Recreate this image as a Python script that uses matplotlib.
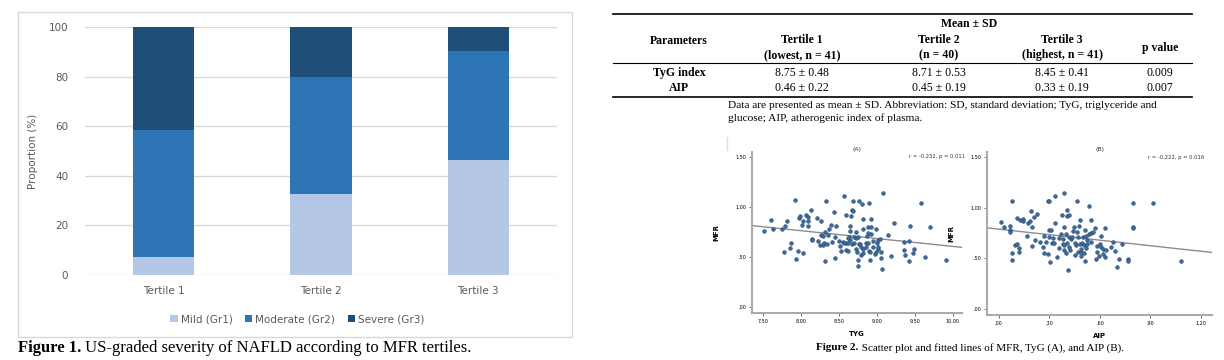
import numpy as np
import matplotlib.pyplot as plt
from matplotlib.lines import Line2D
from matplotlib.patches import Rectangle

## ========= data ========================

tertiles = ['Tertile 1', 'Tertile 2', 'Tertile 3']
grades = ['Mild (Gr1)', 'Moderate (Gr2)', 'Severe (Gr3)']
mild = [7.3, 32.5, 46.3]
moderate = [51.2, 47.5, 43.9]
severe = [41.5, 20.0, 9.8]

tbl_cols = ['Tertile 1', 'Tertile 2', 'Tertile 3']
tbl_sub = ['(lowest, n = 41)', '(n = 40)', '(highest, n = 41)']
tbl_rows = ['TyG index', 'AIP']
tbl_vals = [['8.75 ± 0.48', '8.71 ± 0.53', '8.45 ± 0.41'],
            ['0.46 ± 0.22', '0.45 ± 0.19', '0.33 ± 0.19']]
tbl_p = ['0.009', '0.007']

tyg = [7.51, 7.61, 7.63, 7.75, 7.79, 7.82, 7.78, 7.85, 7.87, 7.92, 7.94, 7.96, 7.97, 7.99,
       8.01, 8.03, 8.03, 8.07, 8.09, 8.09, 8.09, 8.13, 8.14, 8.15, 8.21, 8.22, 8.25, 8.27,
       8.27, 8.29, 8.29, 8.30, 8.32, 8.32, 8.33, 8.34, 8.37, 8.40, 8.41, 8.43, 8.45, 8.46,
       8.50, 8.52, 8.53, 8.57, 8.59, 8.59, 8.59, 8.62, 8.62, 8.63, 8.64, 8.65, 8.65, 8.66,
       8.67, 8.67, 8.69, 8.69, 8.70, 8.72, 8.73, 8.73, 8.75, 8.75, 8.75, 8.76, 8.77, 8.79,
       8.79, 8.80, 8.81, 8.81, 8.82, 8.85, 8.86, 8.87, 8.88, 8.88, 8.90, 8.90, 8.91, 8.91,
       8.92, 8.92, 8.92, 8.95, 8.97, 8.99, 9.00, 9.01, 9.01, 9.05, 9.06, 9.07, 9.08, 9.15,
       9.19, 9.23, 9.35, 9.36, 9.37, 9.42, 9.42, 9.44, 9.47, 9.49, 9.58, 9.63, 9.70, 9.91,
       8.78, 8.62, 8.95, 8.45, 9.02, 8.70, 8.55, 8.88, 9.04, 8.35, 8.74, 8.82, 8.57, 8.99]
mfr_a = [0.763, 0.874, 0.78, 0.78, 0.81, 0.864, 0.55, 0.59, 0.64, 1.075, 0.48, 0.56, 0.89, 0.91,
         0.82, 0.54, 0.864, 0.92, 0.90, 0.857, 0.81, 0.974, 0.683, 0.666, 0.887, 0.663, 0.62, 0.72,
         0.857, 0.713, 0.62, 0.643, 0.46, 0.75, 1.065, 0.633, 0.78, 0.82, 0.65, 0.947, 0.49, 0.81,
         0.656, 0.61, 0.556, 1.115, 0.57, 0.92, 0.636, 0.636, 0.56, 0.70, 0.81, 0.763, 0.67, 0.91,
         0.633, 0.97, 0.96, 1.065, 0.70, 0.747, 0.693, 0.576, 0.475, 0.41, 0.70, 1.065, 0.63, 0.596,
         0.516, 1.03, 0.78, 0.536, 0.884, 0.596, 0.643, 0.71, 0.80, 0.643, 0.56, 1.045, 0.475, 0.55,
         0.80, 0.884, 0.73, 0.60, 0.53, 0.777, 0.636, 0.67, 0.58, 0.546, 0.495, 0.38, 1.145, 0.723,
         0.51, 0.844, 0.646, 0.57, 0.52, 0.46, 0.663, 0.81, 0.54, 0.58, 1.045, 0.50, 0.80, 0.47,
         0.63, 0.69, 0.66, 0.70, 0.60, 0.64, 0.65, 0.74, 0.68, 0.72, 0.55, 0.58, 0.64, 0.55]

aip = [0.016, 0.028, 0.067, 0.067, 0.069, 0.077, 0.077, 0.077, 0.095, 0.107, 0.107, 0.119, 0.119,
       0.127, 0.146, 0.146, 0.166, 0.176, 0.186, 0.194, 0.196, 0.196, 0.206, 0.215, 0.225, 0.245,
       0.265, 0.269, 0.281, 0.289, 0.296, 0.296, 0.296, 0.304, 0.289, 0.316, 0.324, 0.336, 0.336,
       0.348, 0.356, 0.368, 0.376, 0.380, 0.384, 0.387, 0.389, 0.389, 0.399, 0.403, 0.407, 0.407,
       0.411, 0.415, 0.415, 0.419, 0.427, 0.435, 0.447, 0.455, 0.459, 0.466, 0.466, 0.470, 0.476,
       0.480, 0.484, 0.490, 0.490, 0.494, 0.498, 0.504, 0.504, 0.510, 0.514, 0.522, 0.526, 0.534,
       0.534, 0.546, 0.550, 0.561, 0.569, 0.577, 0.585, 0.597, 0.607, 0.609, 0.617, 0.621, 0.629,
       0.629, 0.637, 0.666, 0.676, 0.688, 0.700, 0.716, 0.731, 0.769, 0.769, 0.799, 0.799, 0.799,
       0.917, 1.079,
       0.45, 0.52, 0.38, 0.47, 0.55, 0.42, 0.33, 0.60, 0.49, 0.36, 0.27, 0.44, 0.58, 0.40, 0.52, 0.31]
mfr_b = [0.863, 0.81, 0.82, 0.78, 0.76, 1.07, 0.553, 0.483, 0.63, 0.90, 0.64, 0.597, 0.563,
         0.883, 0.893, 0.867, 0.723, 0.85, 0.867, 0.97, 0.813, 0.62, 0.907, 0.683, 0.94, 0.66,
         0.613, 0.553, 0.663, 1.067, 1.067, 0.78, 0.707, 0.463, 0.54, 0.647, 0.703, 0.853, 1.113,
         0.513, 0.703, 0.74, 0.923, 0.643, 0.63, 1.143, 0.81, 0.58, 0.74, 0.973, 0.917, 0.647,
         0.383, 0.923, 0.607, 0.707, 0.693, 0.707, 0.81, 0.53, 0.633, 0.76, 1.063, 0.563, 0.817,
         0.637, 0.877, 0.567, 0.52, 0.647, 0.707, 0.63, 0.557, 0.47, 0.78, 0.677, 0.64, 1.02,
         0.74, 0.88, 0.747, 0.76, 0.80, 0.49, 0.56, 0.527, 0.723, 0.61, 0.59, 0.54, 0.80,
         0.517, 0.58, 0.607, 0.663, 0.573, 0.413, 0.497, 0.64, 0.497, 0.473, 1.043, 0.813, 0.80,
         1.043, 0.473,
         0.65, 0.60, 0.69, 0.71, 0.66, 0.58, 0.65, 0.64, 0.59, 0.60, 0.72, 0.77, 0.62, 0.55, 0.72, 0.78]

fit_a = [-0.0786, 1.392]   # slope, intercept
fit_b = [-0.182, 0.788]
stat_a = 'r = -0.232, p = 0.011'
stat_b = 'r = -0.222, p = 0.016'

## ========= helpers ========================

W, H = 1224, 360

def box(l, t, r, b):
    return [l / W, 1 - b / H, (r - l) / W, (b - t) / H]

def fx(x):
    return x / W

def fy(y):
    return 1 - y / H

fig = plt.figure(figsize=(W / 100, H / 100), dpi=100)
renderer = fig.canvas.get_renderer()
serif = 'Liberation Serif'
gray = '#595959'

def caption(x, y, head, rest, size, center=False):
    # bold "Figure n." followed by plain text
    t1 = fig.text(fx(x), fy(y), head, fontsize=size, family=serif, weight='bold', va='center')
    t2 = fig.text(fx(x), fy(y), ' ' + rest, fontsize=size, family=serif, va='center')
    w1 = t1.get_window_extent(renderer).width
    w2 = t2.get_window_extent(renderer).width
    x0 = x - (w1 + w2) / 2 if center else x
    t1.set_x(fx(x0))
    t2.set_x(fx(x0 + w1))

## ========= Figure 1: stacked bars ========================

fig.add_artist(Rectangle((fx(18), fy(337)), fx(572 - 18), (337 - 12) / H,
                         transform=fig.transFigure, fill=False, ec='#d9d9d9', lw=1))

ax = fig.add_axes(box(85, 27, 557, 275))
x = np.arange(len(tertiles))
cols = ['#b4c7e7', '#2e75b6', '#1f4e79']
bottom = np.zeros(3)
for vals, c, lab in zip([mild, moderate, severe], cols, grades):
    ax.bar(x, vals, bottom=bottom, width=0.39, color=c, label=lab, zorder=3)
    bottom += np.array(vals)
ax.set_xlim(-0.5, 2.5)
ax.set_ylim(0, 100)
ax.set_yticks(range(0, 101, 20))
ax.yaxis.grid(True, color='#d9d9d9', lw=1, zorder=0)
ax.set_xticks(x)
ax.set_xticklabels(tertiles)
for s in ax.spines.values():
    s.set_visible(False)
ax.tick_params(length=0, labelsize=7.5, colors=gray, pad=8)
ax.tick_params(axis='y', pad=12)
ax.set_ylabel('Proportion (%)', fontsize=7.5, color=gray, labelpad=8)
ax.legend(loc='upper center', bbox_to_anchor=(0.45, -0.12), ncol=3, frameon=False,
          fontsize=7.5, labelcolor=gray, handlelength=0.7, handleheight=0.7,
          handletextpad=0.3, columnspacing=1.2)

caption(18, 348, 'Figure 1.', 'US-graded severity of NAFLD according to MFR tertiles.', 12)

## ========= Table ========================

def hline(y, lw):
    fig.add_artist(Line2D([fx(613), fx(1192)], [fy(y), fy(y)], transform=fig.transFigure,
                          color='black', lw=lw))

hline(14, 1.2)
hline(63, 0.8)
hline(97, 1.2)

tfs = 8.5
col_x = [802, 939, 1062]
fig.text(fx(969), fy(24), 'Mean ± SD', ha='center', va='center', fontsize=tfs, family=serif, weight='bold')
fig.text(fx(679), fy(41), 'Parameters', ha='center', va='center', fontsize=tfs, family=serif, weight='bold')
fig.text(fx(1160), fy(48), 'p value', ha='center', va='center', fontsize=tfs, family=serif, weight='bold')
for cx, name, sub in zip(col_x, tbl_cols, tbl_sub):
    fig.text(fx(cx), fy(40), name, ha='center', va='center', fontsize=tfs, family=serif, weight='bold')
    fig.text(fx(cx), fy(55), sub, ha='center', va='center', fontsize=tfs, family=serif, weight='bold')
for ry, name, vals, p in zip([73, 88], tbl_rows, tbl_vals, tbl_p):
    fig.text(fx(679), fy(ry), name, ha='center', va='center', fontsize=tfs, family=serif, weight='bold')
    for cx, v in zip(col_x, vals):
        fig.text(fx(cx), fy(ry), v, ha='center', va='center', fontsize=tfs, family=serif)
    fig.text(fx(1160), fy(ry), p, ha='center', va='center', fontsize=tfs, family=serif)

fig.text(fx(728), fy(105), 'Data are presented as mean ± SD. Abbreviation: SD, standard deviation; '
         'TyG, triglyceride and', va='center', fontsize=8.2, family=serif)
fig.text(fx(728), fy(118), 'glucose; AIP, atherogenic index of plasma.', va='center',
         fontsize=8.2, family=serif)

## ========= Figure 2: scatter plots ========================

fig.add_artist(Line2D([fx(727), fx(727)], [fy(137), fy(150)], transform=fig.transFigure,
                      color='#dddddd', lw=1))

def scatter_panel(rect, xs, ys, xlim, xticks, xticklabels, xlabel, title, stat, fit, stat_x):
    a = fig.add_axes(rect)
    a.scatter(xs, ys, s=7, color='#3d6b9e', edgecolor='#28496e', lw=0.4, zorder=3)
    xx = np.array(xlim)
    a.plot(xx, fit[0] * xx + fit[1], color='#8c8c8c', lw=1, zorder=2)
    a.set_xlim(xlim)
    a.set_ylim(-0.06, 1.55)
    a.set_xticks(xticks)
    a.set_xticklabels(xticklabels)
    a.set_yticks([0, 0.5, 1.0, 1.5])
    a.set_yticklabels(['.00', '.50', '1.00', '1.50'])
    a.tick_params(labelsize=3.5, length=2, width=0.6, color='#555555', pad=2)
    for s in ['top', 'right']:
        a.spines[s].set_visible(False)
    for s in ['left', 'bottom']:
        a.spines[s].set_color('#aaaaaa')
        a.spines[s].set_linewidth(1.5)
    a.set_xlabel(xlabel, fontsize=5, weight='bold', labelpad=5)
    a.set_ylabel('MFR', fontsize=5, weight='bold', labelpad=12)
    a.set_title(title, fontsize=4.5, pad=1, color='#333333')
    a.text(stat_x, 0.96, stat, transform=a.transAxes, fontsize=3.8, ha='center', color='#333333')
    return a

scatter_panel(box(752, 152, 962, 313), tyg, mfr_a, [7.355, 10.12],
              [7.5, 8.0, 8.5, 9.0, 9.5, 10.0], ['7.50', '8.00', '8.50', '9.00', '9.50', '10.00'],
              'TYG', '(A)', stat_a, fit_a, 0.88)
scatter_panel(box(987, 152, 1212, 315), aip, mfr_b, [-0.07, 1.265],
              [0, 0.3, 0.6, 0.9, 1.2], ['.00', '.30', '.60', '.90', '1.20'],
              'AIP', '(B)', stat_b, fit_b, 0.84)

caption(970, 348, 'Figure 2.', 'Scatter plot and fitted lines of MFR, TyG (A), and AIP (B).', 8,
        center=True)

fig.savefig('out.png', dpi=100)
